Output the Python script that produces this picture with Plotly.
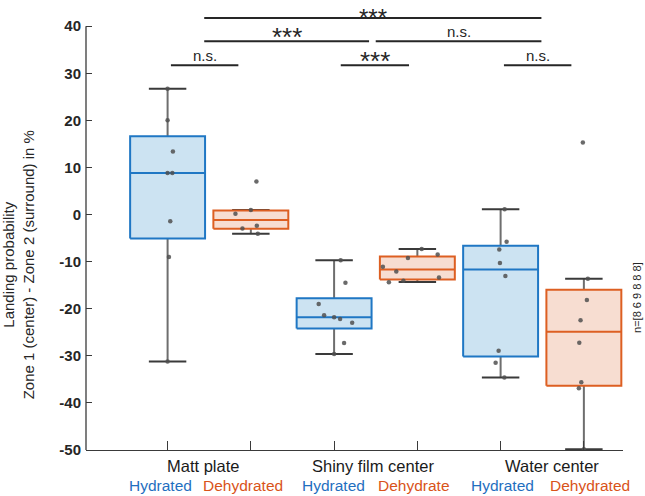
import plotly.graph_objects as go

# ---------------- data ----------------
categories = ["Matt plate", "Shiny film center", "Water center"]
conditions = ["Hydrated", "Dehydrated", "Hydrated", "Dehydrate", "Hydrated", "Dehydrated"]
group_pos = [1, 2, 3, 4, 5, 6]

values = [
    [26.7, 20.0, 13.4, 8.8, 8.8, -1.4, -9.0, -31.2],
    [7.0, 0.16, 0.94, -2.95, -2.4, -4.1],
    [-9.7, -14.5, -19.0, -21.4, -21.8, -22.2, -23.0, -27.3, -29.6],
    [-7.3, -8.5, -9.25, -11.1, -12.1, -13.35, -14.4, -14.05],
    [1.15, -5.78, -7.41, -10.3, -13.07, -28.92, -31.47, -34.58],
    [15.3, -13.63, -18.16, -22.47, -27.2, -35.62, -36.9, -49.86],
]
q3 = [16.65, 0.88, -17.8, -8.9, -6.63, -15.97]
median = [8.8, -1.18, -21.8, -11.65, -11.65, -24.88]
q1 = [-5.07, -3.03, -24.2, -13.8, -30.12, -36.35]
whisker_hi = [26.7, 0.94, -9.73, -7.33, 1.15, -13.63]
whisker_lo = [-31.2, -4.1, -29.6, -14.3, -34.58, -49.86]

# horizontal scatter offsets of the dots
jitter = [
    [0, 0, 0.064, 0, 0.057, 0.032, 0.016, 0],
    [0.067, -0.185, 0, -0.101, 0.072, 0.084],
    [0.079, 0.136, -0.185, -0.12, 0, 0.072, 0.217, 0.12, 0],
    [0.052, 0.244, -0.113, -0.414, -0.253, 0.26, -0.342, -0.168],
    [0.048, 0.072, -0.016, -0.008, 0.057, -0.024, -0.06, 0.045],
    [-0.012, 0.048, 0.036, -0.04, -0.055, -0.031, -0.06, 0],
]

# significance bars
sig_x0 = [1.44, 1.44, 3.50, 1.04, 3.08, 5.04]
sig_x1 = [5.49, 3.42, 5.49, 1.85, 3.90, 5.85]
sig_y = [41.76, 36.8, 36.8, 31.7, 31.7, 31.7]
sig_text = ["***", "***", "n.s.", "n.s.", "***", "n.s."]

yticks = [-50, -40, -30, -20, -10, 0, 10, 20, 30, 40]
ytick_labels = ["-50", "-40", "-30", "-20", "-10", "0", "10", "20", "30", "40"]
n_label = "n=[8 6 9 8 8 8]"

# ---------------- styles ----------------
edge = ["#1f77c4", "#dd5f22"] * 3
fill = ["#cce3f2", "#f7ddd1"] * 3
text_col = ["#1f6fc0", "#d95319"] * 3
box_half = 0.45
cap_half = 0.225
FONT = "Liberation Sans, Arial, sans-serif"

fig = go.Figure()

for i, p in enumerate(group_pos):
    # whiskers
    fig.add_trace(go.Scatter(
        x=[p, p, None, p, p], y=[q3[i], whisker_hi[i], None, q1[i], whisker_lo[i]],
        mode="lines", line=dict(color="#6e6e6e", width=2), hoverinfo="skip", showlegend=False))
    # caps
    fig.add_trace(go.Scatter(
        x=[p - cap_half, p + cap_half, None, p - cap_half, p + cap_half],
        y=[whisker_hi[i], whisker_hi[i], None, whisker_lo[i], whisker_lo[i]],
        mode="lines", line=dict(color="#3a3a3a", width=2), hoverinfo="skip", showlegend=False))
    # box
    fig.add_trace(go.Scatter(
        x=[p - box_half, p + box_half, p + box_half, p - box_half, p - box_half],
        y=[q1[i], q1[i], q3[i], q3[i], q1[i]],
        mode="lines", fill="toself", fillcolor=fill[i],
        line=dict(color=edge[i], width=2), hoverinfo="skip", showlegend=False))
    # median
    fig.add_trace(go.Scatter(
        x=[p - box_half, p + box_half], y=[median[i], median[i]],
        mode="lines", line=dict(color=edge[i], width=2), hoverinfo="skip", showlegend=False))
    # dots
    fig.add_trace(go.Scatter(
        x=[p + j for j in jitter[i]], y=values[i], mode="markers",
        marker=dict(color="rgba(80,80,80,0.85)", size=4.5), showlegend=False))

shapes = []
annotations = []
# y axis line (only from -50 to 40)
shapes.append(dict(type="line", xref="paper", yref="y", x0=0, x1=0, y0=yticks[0], y1=yticks[-1],
                   line=dict(color="#3a3a3a", width=1.3)))
for k in range(len(sig_text)):
    shapes.append(dict(type="line", xref="x", yref="y", x0=sig_x0[k], x1=sig_x1[k],
                       y0=sig_y[k], y1=sig_y[k], line=dict(color="#262626", width=2)))
    is_star = sig_text[k] == "***"
    shift, size = 0, 15
    if is_star:
        shift, size = (-14, 24) if k == 0 else (-12, 26)
    annotations.append(dict(
        x=(sig_x0[k] + sig_x1[k]) / 2, y=sig_y[k], xref="x", yref="y",
        text=sig_text[k], showarrow=False, yanchor="bottom", yshift=shift, borderpad=0,
        font=dict(family=FONT, size=size, color="#262626")))

# category labels
for c, name in enumerate(categories):
    annotations.append(dict(
        x=[1.42, 3.47, 5.62][c], y=-0.036, xref="x", yref="paper", text=name,
        showarrow=False, yanchor="middle", font=dict(family=FONT, size=16.5, color="#1a1a1a")))
for i, cond in enumerate(conditions):
    annotations.append(dict(
        x=group_pos[i] + [-0.08, -0.09, -0.005, -0.045, 0.02, 0.07][i], y=-0.079, xref="x", yref="paper",
        text=cond, showarrow=False, yanchor="middle", font=dict(family=FONT, size=15.5, color=text_col[i])))

# y title
annotations.append(dict(
    x=-0.124, y=-10.7, xref="paper", yref="y", textangle=-90,
    text="Landing probability<br>Zone 1 (center) - Zone 2 (surround) in %",
    showarrow=False, xanchor="center", yanchor="middle",
    font=dict(family=FONT, size=15, color="#262626")))

# n label
annotations.append(dict(
    x=1.026, y=-17.5, xref="paper", yref="y", textangle=-90, text=n_label,
    showarrow=False, xanchor="center", yanchor="middle",
    font=dict(family=FONT, size=11, color="#262626")))

fig.update_layout(
    width=645, height=496,
    margin=dict(l=86, r=22, t=5, b=46),
    paper_bgcolor="white", plot_bgcolor="white",
    shapes=shapes, annotations=annotations,
    xaxis=dict(range=[0.02, 6.47], tickvals=group_pos, ticktext=[""] * 6, ticks="inside",
               ticklen=9, tickwidth=1.3, tickcolor="#3a3a3a", showline=True, linecolor="#3a3a3a",
               linewidth=1.3, showgrid=False, zeroline=False),
    yaxis=dict(range=[-50, 44.5], tickvals=yticks, ticktext=ytick_labels, ticks="inside", ticklen=6,
               tickwidth=1.3, tickcolor="#3a3a3a", showline=False, showgrid=False, zeroline=False,
               ticklabelstandoff=4,
               tickfont=dict(family=FONT, size=15, color="#262626", weight="bold")),
)

fig.write_html("out.html", config={"displayModeBar": False},
               post_script="document.body.style.margin='0';document.body.style.overflow='hidden';")
